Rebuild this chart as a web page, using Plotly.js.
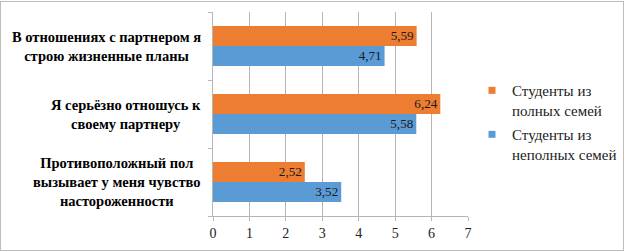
<!DOCTYPE html>
<html><head><meta charset="utf-8">
<script src="https://cdn.plot.ly/plotly-3.0.1.min.js"></script>
<style>
html,body{margin:0;padding:0;background:#fff;}
#wrap{position:relative;width:626px;height:252px;}
#chart{width:626px;height:252px;}
#frame{position:absolute;left:0;top:1px;width:622px;height:248px;border:1px solid #bdbdbd;pointer-events:none;}
</style></head>
<body>
<div id="wrap"><div id="chart"></div><div id="frame"></div></div>
<script>
const categories = [
  "В отношениях с партнером я<br>строю жизненные планы",
  "Я серьёзно отношусь к<br>своему партнеру",
  "Противоположный пол<br>вызывает у меня чувство<br>настороженности"
];
const seriesNames = ["Студенты из<br>полных семей", "Студенты из<br>неполных семей"];
const fullFamilies = [5.59, 6.24, 2.52];
const incompleteFamilies = [4.71, 5.58, 3.52];
const xTicks = [0, 1, 2, 3, 4, 5, 6, 7];

const serif = "Liberation Serif, DejaVu Serif, serif";
const colors = ["#ED7D31", "#5B9BD5"];
const ids = categories.map((c, i) => i);

const traces = [fullFamilies, incompleteFamilies].map((vals, k) => ({
  type: "bar",
  orientation: "h",
  name: seriesNames[k],
  showlegend: false,
  y: ids,
  x: vals,
  marker: {color: colors[k], line: {width: 0}},
  text: vals.map(v => v.toFixed(2).replace(".", ",")),
  textposition: "inside",
  insidetextanchor: "end",
  textfont: {family: serif, size: 14, color: "#1a1a1a"},
  cliponaxis: false,
  hoverinfo: "skip"
}));

const legendTraces = seriesNames.map((n, k) => ({
  type: "scatter", mode: "markers", name: n,
  x: [null], y: [null], legendgroup: "g" + k,
  marker: {symbol: "square", size: 7, color: colors[k]},
  hoverinfo: "skip"
}));

const annotations = categories.map((c, i) => ({
  xref: "paper", yref: "y", x: 0, y: i,
  xanchor: "right", yanchor: "middle", xshift: -10,
  align: "center", showarrow: false, text: "<b>" + c.split("<br>").join("</b><br><b>") + "</b>",
  font: {family: serif, size: 14.5, color: "#000"}
}));

const layout = {
  width: 626, height: 252,
  font: {family: serif, size: 13, color: "#222"},
  margin: {l: 213, r: 158, t: 12, b: 36, autoexpand: false},
  paper_bgcolor: "#fff", plot_bgcolor: "#fff",
  barmode: "group", bargap: 0.41, bargroupgap: 0,
  showlegend: true,
  legend: {
    xref: "container", yref: "container",
    x: 0.754, xanchor: "left", y: 0.706, yanchor: "top",
    font: {family: serif, size: 15, color: "#222"},
    traceorder: "grouped", itemwidth: 30, tracegroupgap: 2, valign: "top"
  },
  xaxis: {
    range: [0, 7], tickvals: xTicks, ticktext: xTicks.map(String),
    showgrid: true, gridcolor: "#b5b5b5", gridwidth: 1,
    zeroline: false, showline: true, linecolor: "#b5b5b5",
    ticks: "outside", ticklen: 4, tickcolor: "#b5b5b5",
    tickfont: {family: serif, size: 14, color: "#222"}, fixedrange: true
  },
  yaxis: {
    type: "linear", range: [2.5, -0.5], tickvals: [-0.5, 0.5, 1.5, 2.5],
    showticklabels: false, showgrid: false, zeroline: false,
    showline: true, linecolor: "#b5b5b5",
    ticks: "outside", ticklen: 4, tickcolor: "#b5b5b5", fixedrange: true
  },
  annotations: annotations
};

Plotly.newPlot("chart", traces.concat(legendTraces), layout, {displayModeBar: false, staticPlot: true});
</script>
</body></html>
